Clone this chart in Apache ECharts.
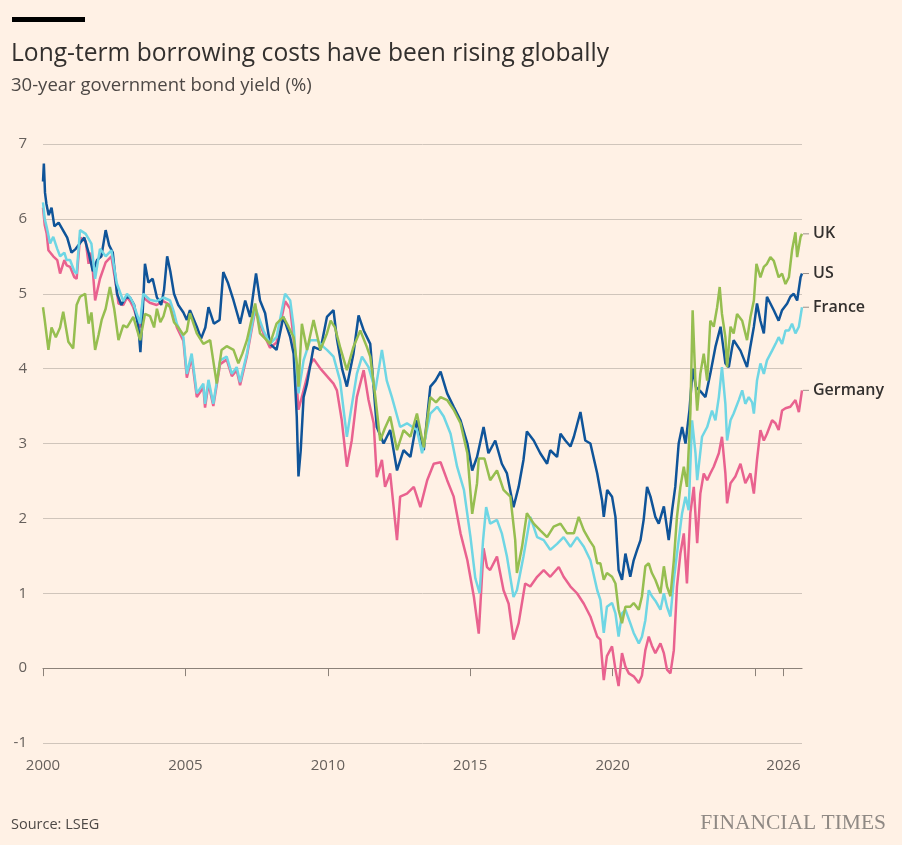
<!DOCTYPE html>
<html>
<head>
<meta charset="utf-8">
<title>Long-term borrowing costs</title>
<script src="https://cdn.jsdelivr.net/npm/echarts@6.0.0/dist/echarts.min.js"></script>
<style>
  html, body { margin: 0; padding: 0; background: #fff1e5; }
  #chart { width: 902px; height: 845px; }
</style>
</head>
<body>
<div id="chart"></div>
<script>
// 30-year government bond yield (%), [decimal year, value]
var usYield = [
  [2000.00, 6.50], [2000.03, 6.74], [2000.07, 6.35], [2000.12, 6.20], [2000.20, 6.05], [2000.30, 6.15],
  [2000.40, 5.90], [2000.55, 5.95], [2000.70, 5.85], [2000.85, 5.75], [2001.00, 5.55], [2001.15, 5.60],
  [2001.45, 5.75], [2001.60, 5.55], [2001.75, 5.30], [2001.90, 5.45], [2002.05, 5.50], [2002.20, 5.85],
  [2002.32, 5.65], [2002.45, 5.55], [2002.60, 5.00], [2002.75, 4.85], [2002.90, 4.95], [2003.05, 4.95],
  [2003.20, 4.85], [2003.35, 4.55], [2003.42, 4.22], [2003.50, 4.75], [2003.58, 5.40], [2003.70, 5.15],
  [2003.85, 5.20], [2004.00, 4.95], [2004.15, 4.85], [2004.25, 5.05], [2004.36, 5.50], [2004.47, 5.30],
  [2004.60, 5.00], [2004.75, 4.85], [2004.93, 4.75], [2005.05, 4.65], [2005.16, 4.78], [2005.40, 4.56],
  [2005.55, 4.40], [2005.70, 4.55], [2005.81, 4.82], [2006.00, 4.60], [2006.20, 4.65], [2006.33, 5.29],
  [2006.50, 5.14], [2006.69, 4.91], [2006.92, 4.60], [2007.10, 4.91], [2007.27, 4.69], [2007.48, 5.27],
  [2007.62, 4.91], [2007.80, 4.74], [2007.97, 4.33], [2008.20, 4.25], [2008.44, 4.69], [2008.68, 4.42],
  [2008.80, 4.20], [2008.91, 3.36], [2008.97, 2.56], [2009.05, 2.91], [2009.15, 3.62], [2009.27, 3.80],
  [2009.50, 4.29], [2009.74, 4.25], [2009.97, 4.69], [2010.20, 4.78], [2010.32, 4.40], [2010.50, 4.00],
  [2010.67, 3.76], [2010.90, 4.20], [2011.08, 4.71], [2011.26, 4.51], [2011.49, 4.33], [2011.72, 3.22],
  [2011.96, 3.00], [2012.19, 3.18], [2012.43, 2.64], [2012.66, 2.91], [2012.90, 2.82], [2013.13, 3.31],
  [2013.37, 2.91], [2013.60, 3.76], [2013.78, 3.84], [2013.96, 3.96], [2014.19, 3.67], [2014.42, 3.49],
  [2014.66, 3.31], [2014.90, 3.00], [2015.07, 2.64], [2015.24, 2.82], [2015.47, 3.22], [2015.64, 2.87],
  [2015.88, 3.04], [2016.11, 2.73], [2016.29, 2.60], [2016.52, 2.15], [2016.70, 2.42], [2016.87, 2.78],
  [2016.99, 3.16], [2017.23, 3.04], [2017.46, 2.87], [2017.70, 2.73], [2017.81, 2.91], [2018.05, 2.82],
  [2018.17, 3.13], [2018.34, 3.04], [2018.52, 2.96], [2018.64, 3.09], [2018.87, 3.42], [2019.04, 3.04],
  [2019.22, 3.00], [2019.46, 2.60], [2019.63, 2.24], [2019.69, 2.02], [2019.81, 2.38], [2019.98, 2.29],
  [2020.10, 2.02], [2020.21, 1.31], [2020.33, 1.18], [2020.45, 1.53], [2020.62, 1.22], [2020.74, 1.44],
  [2020.86, 1.58], [2020.98, 1.71], [2021.09, 1.98], [2021.21, 2.42], [2021.33, 2.29], [2021.50, 2.02],
  [2021.62, 1.93], [2021.80, 2.16], [2021.97, 1.71], [2022.09, 2.11], [2022.20, 2.42], [2022.32, 3.00],
  [2022.44, 3.22], [2022.56, 3.00], [2022.70, 3.45], [2022.81, 4.00], [2022.93, 3.75], [2023.08, 3.70],
  [2023.26, 3.62], [2023.43, 3.93], [2023.61, 4.29], [2023.79, 4.56], [2023.96, 4.07], [2024.08, 4.02],
  [2024.20, 4.29], [2024.25, 4.38], [2024.49, 4.24], [2024.72, 4.02], [2024.84, 4.30], [2024.96, 4.56],
  [2025.07, 4.87], [2025.19, 4.64], [2025.31, 4.47], [2025.42, 4.96], [2025.54, 4.87], [2025.66, 4.78],
  [2025.83, 4.64], [2025.95, 4.78], [2026.13, 4.87], [2026.24, 4.96], [2026.36, 5.00], [2026.48, 4.91],
  [2026.60, 5.22], [2026.65, 5.27]
];

var ukYield = [
  [2000.00, 4.82], [2000.06, 4.65], [2000.19, 4.25], [2000.30, 4.55], [2000.45, 4.42], [2000.60, 4.55],
  [2000.71, 4.76], [2000.89, 4.36], [2001.06, 4.27], [2001.18, 4.85], [2001.30, 4.96], [2001.48, 5.00],
  [2001.60, 4.60], [2001.70, 4.75], [2001.83, 4.25], [2001.95, 4.45], [2002.06, 4.65], [2002.20, 4.80],
  [2002.35, 5.09], [2002.50, 4.80], [2002.65, 4.38], [2002.82, 4.58], [2002.95, 4.55], [2003.06, 4.62],
  [2003.17, 4.69], [2003.41, 4.38], [2003.58, 4.73], [2003.76, 4.70], [2003.90, 4.55], [2004.00, 4.80],
  [2004.12, 4.62], [2004.23, 4.70], [2004.35, 4.87], [2004.46, 4.82], [2004.60, 4.62], [2004.75, 4.55],
  [2004.93, 4.45], [2005.05, 4.50], [2005.16, 4.74], [2005.40, 4.47], [2005.63, 4.33], [2005.87, 4.38],
  [2006.00, 4.05], [2006.10, 3.80], [2006.27, 4.25], [2006.45, 4.30], [2006.69, 4.25], [2006.86, 4.07],
  [2007.00, 4.20], [2007.16, 4.38], [2007.45, 4.87], [2007.62, 4.47], [2007.80, 4.40], [2007.97, 4.33],
  [2008.20, 4.60], [2008.44, 4.69], [2008.62, 4.56], [2008.80, 4.42], [2008.92, 4.05], [2008.97, 3.76],
  [2009.09, 4.60], [2009.27, 4.25], [2009.50, 4.65], [2009.74, 4.25], [2009.97, 4.47], [2010.10, 4.64],
  [2010.25, 4.55], [2010.43, 4.29], [2010.67, 3.98], [2010.90, 4.29], [2011.14, 4.51], [2011.37, 4.29],
  [2011.49, 4.16], [2011.67, 3.62], [2011.84, 3.04], [2012.00, 3.20], [2012.19, 3.36], [2012.43, 2.91],
  [2012.66, 3.18], [2012.90, 3.09], [2013.13, 3.40], [2013.37, 2.95], [2013.60, 3.62], [2013.80, 3.55],
  [2013.96, 3.62], [2014.19, 3.58], [2014.42, 3.45], [2014.66, 3.27], [2014.90, 2.87], [2015.07, 2.06],
  [2015.24, 2.47], [2015.30, 2.80], [2015.50, 2.80], [2015.70, 2.51], [2015.94, 2.64], [2016.17, 2.38],
  [2016.41, 2.29], [2016.58, 1.71], [2016.64, 1.27], [2016.82, 1.62], [2016.99, 2.07], [2017.23, 1.93],
  [2017.46, 1.84], [2017.70, 1.75], [2017.93, 1.89], [2018.17, 1.93], [2018.40, 1.80], [2018.64, 1.80],
  [2018.81, 2.02], [2018.99, 1.84], [2019.20, 1.70], [2019.34, 1.62], [2019.46, 1.40], [2019.57, 1.40],
  [2019.69, 1.18], [2019.80, 1.27], [2019.98, 1.22], [2020.10, 1.13], [2020.21, 0.78], [2020.33, 0.60],
  [2020.45, 0.82], [2020.62, 0.82], [2020.74, 0.87], [2020.92, 0.78], [2021.03, 0.96], [2021.15, 1.36],
  [2021.27, 1.40], [2021.38, 1.27], [2021.50, 1.18], [2021.68, 1.00], [2021.80, 1.36], [2021.91, 1.09],
  [2022.03, 0.96], [2022.15, 1.44], [2022.26, 2.02], [2022.38, 2.42], [2022.50, 2.69], [2022.61, 2.42],
  [2022.73, 3.40], [2022.81, 4.78], [2022.91, 3.80], [2022.97, 3.44], [2023.08, 3.93], [2023.20, 4.20],
  [2023.32, 3.84], [2023.43, 4.64], [2023.55, 4.56], [2023.67, 4.82], [2023.76, 5.09], [2023.84, 4.73],
  [2023.96, 4.42], [2024.02, 4.02], [2024.14, 4.56], [2024.25, 4.47], [2024.37, 4.73], [2024.55, 4.64],
  [2024.72, 4.38], [2024.84, 4.69], [2024.96, 4.91], [2025.05, 5.40], [2025.19, 5.22], [2025.31, 5.36],
  [2025.42, 5.40], [2025.54, 5.49], [2025.66, 5.44], [2025.83, 5.22], [2025.95, 5.27], [2026.07, 5.13],
  [2026.19, 5.22], [2026.30, 5.58], [2026.42, 5.82], [2026.48, 5.49], [2026.60, 5.76], [2026.65, 5.80]
];

var franceYield = [
  [2000.00, 6.22], [2000.06, 6.00], [2000.13, 5.89], [2000.25, 5.67], [2000.36, 5.76], [2000.50, 5.60],
  [2000.60, 5.50], [2000.75, 5.55], [2000.83, 5.45], [2000.95, 5.45], [2001.10, 5.30], [2001.18, 5.27],
  [2001.30, 5.85], [2001.50, 5.80], [2001.70, 5.67], [2001.83, 5.20], [2002.00, 5.60], [2002.20, 5.50],
  [2002.40, 5.58], [2002.59, 5.14], [2002.82, 4.90], [2002.95, 5.00], [2003.06, 4.95], [2003.17, 4.87],
  [2003.41, 4.60], [2003.52, 5.00], [2003.75, 4.92], [2003.99, 4.90], [2004.23, 4.95], [2004.46, 4.91],
  [2004.60, 4.75], [2004.70, 4.60], [2004.93, 4.42], [2005.05, 3.93], [2005.22, 4.20], [2005.40, 3.67],
  [2005.63, 3.80], [2005.69, 3.53], [2005.81, 3.85], [2005.98, 3.53], [2006.22, 4.11], [2006.45, 4.16],
  [2006.63, 3.93], [2006.80, 4.02], [2006.92, 3.82], [2007.16, 4.20], [2007.45, 4.82], [2007.74, 4.51],
  [2007.97, 4.33], [2008.20, 4.42], [2008.50, 5.00], [2008.68, 4.91], [2008.80, 4.56], [2008.97, 3.67],
  [2009.15, 4.11], [2009.38, 4.38], [2009.62, 4.38], [2009.85, 4.29], [2009.97, 4.25], [2010.20, 4.16],
  [2010.43, 3.84], [2010.67, 3.09], [2010.78, 3.36], [2011.02, 3.93], [2011.20, 4.16], [2011.43, 4.02],
  [2011.67, 3.71], [2011.90, 4.25], [2012.07, 3.84], [2012.25, 3.62], [2012.54, 3.22], [2012.78, 3.27],
  [2013.13, 3.18], [2013.31, 2.87], [2013.60, 3.40], [2013.84, 3.49], [2014.07, 3.36], [2014.31, 3.13],
  [2014.54, 2.69], [2014.78, 2.38], [2015.01, 1.75], [2015.18, 1.20], [2015.33, 1.00], [2015.45, 1.70],
  [2015.56, 2.15], [2015.70, 1.93], [2015.94, 1.98], [2016.11, 1.80], [2016.29, 1.49], [2016.52, 0.95],
  [2016.64, 1.04], [2016.87, 1.49], [2017.11, 2.02], [2017.35, 1.75], [2017.58, 1.71], [2017.81, 1.58],
  [2018.05, 1.66], [2018.28, 1.75], [2018.52, 1.62], [2018.75, 1.75], [2018.99, 1.62], [2019.22, 1.44],
  [2019.46, 1.04], [2019.57, 0.91], [2019.69, 0.47], [2019.80, 0.82], [2019.98, 0.87], [2020.10, 0.73],
  [2020.21, 0.42], [2020.33, 0.73], [2020.45, 0.78], [2020.62, 0.60], [2020.74, 0.47], [2020.92, 0.33],
  [2021.03, 0.42], [2021.15, 0.64], [2021.27, 1.04], [2021.38, 0.96], [2021.50, 0.90], [2021.68, 0.78],
  [2021.80, 1.00], [2021.91, 0.82], [2022.03, 0.69], [2022.15, 1.18], [2022.26, 1.53], [2022.44, 2.07],
  [2022.56, 2.29], [2022.67, 2.11], [2022.79, 3.31], [2022.91, 2.87], [2022.97, 2.51], [2023.14, 3.09],
  [2023.32, 3.22], [2023.49, 3.44], [2023.61, 3.31], [2023.73, 3.62], [2023.84, 4.02], [2023.96, 3.53],
  [2024.02, 3.04], [2024.14, 3.31], [2024.25, 3.40], [2024.43, 3.58], [2024.55, 3.71], [2024.66, 3.53],
  [2024.78, 3.62], [2024.90, 3.55], [2024.96, 3.40], [2025.07, 3.84], [2025.19, 4.07], [2025.31, 3.93],
  [2025.42, 4.11], [2025.60, 4.24], [2025.72, 4.33], [2025.83, 4.42], [2025.95, 4.33], [2026.07, 4.51],
  [2026.19, 4.51], [2026.30, 4.60], [2026.42, 4.47], [2026.54, 4.56], [2026.65, 4.82]
];

var germanyYield = [
  [2000.00, 6.15], [2000.06, 5.92], [2000.13, 5.80], [2000.19, 5.58], [2000.36, 5.50], [2000.50, 5.45],
  [2000.60, 5.27], [2000.75, 5.45], [2000.83, 5.38], [2000.95, 5.36], [2001.10, 5.22], [2001.18, 5.20],
  [2001.30, 5.75], [2001.50, 5.70], [2001.60, 5.40], [2001.70, 5.55], [2001.83, 4.91], [2002.00, 5.20],
  [2002.20, 5.42], [2002.40, 5.50], [2002.59, 5.05], [2002.65, 4.87], [2002.82, 4.85], [2002.95, 4.95],
  [2003.06, 4.90], [2003.17, 4.82], [2003.41, 4.55], [2003.52, 4.95], [2003.75, 4.88], [2003.99, 4.85],
  [2004.23, 4.90], [2004.46, 4.85], [2004.60, 4.70], [2004.70, 4.55], [2004.93, 4.37], [2005.05, 3.88],
  [2005.22, 4.15], [2005.40, 3.62], [2005.63, 3.75], [2005.69, 3.48], [2005.81, 3.80], [2005.98, 3.50],
  [2006.22, 4.06], [2006.45, 4.12], [2006.63, 3.90], [2006.80, 3.98], [2006.92, 3.78], [2007.16, 4.17],
  [2007.45, 4.78], [2007.74, 4.47], [2007.97, 4.28], [2008.20, 4.35], [2008.50, 4.90], [2008.68, 4.80],
  [2008.80, 4.40], [2008.97, 3.45], [2009.15, 3.71], [2009.38, 4.05], [2009.50, 4.13], [2009.74, 4.00],
  [2009.97, 3.90], [2010.20, 3.80], [2010.32, 3.71], [2010.49, 3.31], [2010.67, 2.69], [2010.84, 3.04],
  [2011.02, 3.62], [2011.26, 3.98], [2011.43, 3.58], [2011.61, 3.27], [2011.72, 2.55], [2011.90, 2.78],
  [2012.01, 2.42], [2012.19, 2.60], [2012.43, 1.71], [2012.54, 2.29], [2012.78, 2.33], [2013.02, 2.42],
  [2013.25, 2.15], [2013.49, 2.51], [2013.72, 2.73], [2013.96, 2.75], [2014.19, 2.51], [2014.42, 2.29],
  [2014.66, 1.80], [2014.90, 1.44], [2015.13, 0.95], [2015.30, 0.46], [2015.47, 1.60], [2015.59, 1.35],
  [2015.70, 1.31], [2015.94, 1.49], [2016.17, 1.04], [2016.35, 0.86], [2016.52, 0.38], [2016.70, 0.60],
  [2016.93, 1.13], [2017.11, 1.09], [2017.35, 1.22], [2017.58, 1.31], [2017.81, 1.22], [2018.11, 1.35],
  [2018.28, 1.22], [2018.52, 1.09], [2018.75, 1.00], [2018.99, 0.86], [2019.22, 0.69], [2019.46, 0.42],
  [2019.57, 0.38], [2019.69, -0.16], [2019.80, 0.16], [2019.98, 0.29], [2020.10, -0.02], [2020.21, -0.24],
  [2020.33, 0.20], [2020.45, 0.02], [2020.57, -0.07], [2020.74, -0.11], [2020.92, -0.20], [2021.03, -0.10],
  [2021.15, 0.24], [2021.27, 0.42], [2021.38, 0.30], [2021.50, 0.20], [2021.68, 0.33], [2021.80, 0.20],
  [2021.91, -0.02], [2022.03, -0.07], [2022.15, 0.24], [2022.26, 1.09], [2022.38, 1.53], [2022.50, 1.80],
  [2022.61, 1.13], [2022.73, 2.07], [2022.85, 2.42], [2022.97, 1.67], [2023.08, 2.33], [2023.20, 2.60],
  [2023.32, 2.51], [2023.43, 2.60], [2023.55, 2.69], [2023.73, 2.87], [2023.84, 3.09], [2023.96, 2.60],
  [2024.02, 2.20], [2024.14, 2.47], [2024.31, 2.56], [2024.49, 2.73], [2024.66, 2.47], [2024.84, 2.60],
  [2024.96, 2.33], [2025.07, 2.78], [2025.19, 3.18], [2025.31, 3.04], [2025.42, 3.13], [2025.60, 3.31],
  [2025.72, 3.27], [2025.83, 3.18], [2025.95, 3.44], [2026.07, 3.47], [2026.24, 3.49], [2026.42, 3.58],
  [2026.54, 3.42], [2026.65, 3.71]
];

var yearTicks = [2000, 2005, 2010, 2015, 2020, 2025, 2026];
var yearLabels = [2000, 2005, 2010, 2015, 2020, 2026];

var chart = echarts.init(document.getElementById('chart'));

function lineSeries(name, data, color, z) {
  return {
    name: name,
    type: 'line',
    data: data,
    z: z,
    showSymbol: false,
    silent: true,
    lineStyle: { color: color, width: 2.5 },
    endLabel: {
      show: true,
      distance: 1,
      formatter: '{t|}{n|' + name + '}',
      rich: {
        t: { width: 6, height: 1, backgroundColor: '#9a918a' },
        n: { color: '#33302e', fontSize: 16, fontWeight: 600, padding: [0, 0, 0, 4],
             fontFamily: 'Open Sans' }
      }
    }
  };
}

chart.setOption({
  backgroundColor: '#fff1e5',
  animation: false,
  textStyle: { fontFamily: 'Open Sans' },
  title: [
    { text: 'Long-term borrowing costs have been rising globally', left: 11, top: 41, padding: 0,
      textStyle: { fontSize: 24.6, fontWeight: 'normal', color: '#33302e', fontFamily: 'Open Sans' } },
    { text: '30-year government bond yield (%)', left: 11, top: 76, padding: 0,
      textStyle: { fontSize: 18.5, fontWeight: 'normal', color: '#4d4845', fontFamily: 'Open Sans' } },
    { text: 'Source: LSEG', left: 11, top: 817, padding: 0,
      textStyle: { fontSize: 14.5, fontWeight: 'normal', color: '#4d4845', fontFamily: 'Open Sans' } },
    { text: 'FINANCIAL TIMES', right: 16, top: 812, padding: 0,
      textStyle: { fontSize: 21.5, fontWeight: 'normal', color: '#8f8984', fontFamily: 'Liberation Serif' } }
  ],
  graphic: [
    { type: 'rect', left: 12, top: 17, shape: { width: 73, height: 5 }, style: { fill: '#000000' } }
  ],
  grid: { left: 43, right: 100, top: 144, bottom: 102, containLabel: false },
  xAxis: {
    type: 'value',
    min: 2000,
    max: 2026.65,
    axisLine: { show: true, lineStyle: { color: '#8c8279', width: 1.2 } },
    axisTick: { show: true, length: 8, lineStyle: { color: '#8c8279' }, customValues: yearTicks },
    axisLabel: { color: '#66605c', fontSize: 15, margin: 15, customValues: yearLabels,
                 formatter: function (v) { return String(Math.round(v)); } },
    splitLine: { show: false }
  },
  yAxis: {
    type: 'value',
    min: -1,
    max: 7,
    interval: 1,
    axisLine: { show: false },
    axisTick: { show: false },
    axisLabel: { color: '#66605c', fontSize: 15, margin: 16 },
    splitLine: { lineStyle: { color: '#d0c5bb', width: 1 } }
  },
  series: [
    lineSeries('Germany', germanyYield, '#e9628f', 2),
    lineSeries('US', usYield, '#0f5499', 3),
    lineSeries('France', franceYield, '#6fd6e4', 4),
    lineSeries('UK', ukYield, '#96be50', 5)
  ]
});
</script>
</body>
</html>
